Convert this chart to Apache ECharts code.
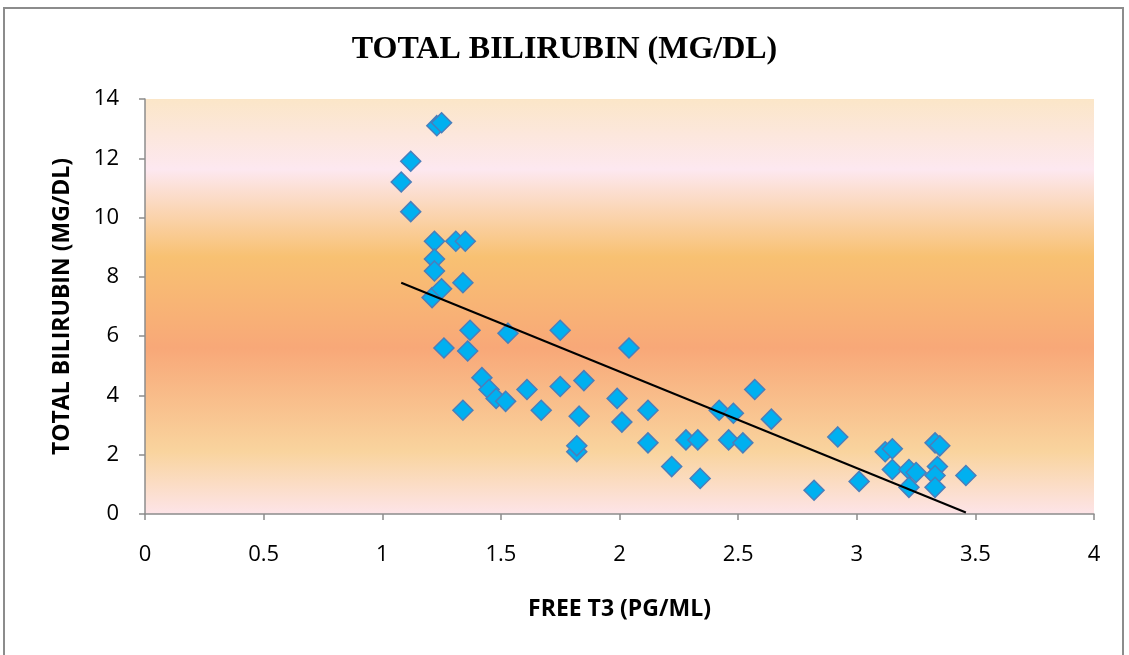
<!DOCTYPE html>
<html>
<head>
    <meta charset="UTF-8" />
    <title>TOTAL BILIRUBIN (MG/DL)</title>
    <script src="https://cdn.jsdelivr.net/npm/echarts@6/dist/echarts.min.js"></script>
    <style>
        body { margin: 0; background: #fff; }
        #frame { position: absolute; left: 3px; top: 7px; width: 1121px; height: 660px; border: 2px solid #8c8c8c; box-sizing: border-box; }
        #chart { position: absolute; left: 0; top: 0; width: 1129px; height: 655px; }
    </style>
</head>
<body>
    <div id="frame"></div>
    <div id="chart"></div>
    <script type="text/javascript">
        // free T3 (pg/ml) vs total bilirubin (mg/dl)
        var freeT3 = [1.08, 1.12, 1.12, 1.23, 1.25, 1.22, 1.22, 1.22, 1.31, 1.35,
            1.34, 1.21, 1.25, 1.26, 1.37, 1.36, 1.34, 1.42, 1.45, 1.48,
            1.52, 1.53, 1.61, 1.67, 1.75, 1.75, 1.82, 1.82, 1.83, 1.85,
            1.99, 2.01, 2.04, 2.12, 2.12, 2.22, 2.28, 2.33, 2.34, 2.42,
            2.48, 2.46, 2.52, 2.57, 2.64, 2.82, 2.92, 3.01, 3.12, 3.15,
            3.15, 3.22, 3.22, 3.25, 3.33, 3.35, 3.34, 3.33, 3.33, 3.46];
        var bilirubin = [11.2, 11.9, 10.2, 13.1, 13.2, 9.2, 8.6, 8.2, 9.2, 9.2,
            7.8, 7.3, 7.6, 5.6, 6.2, 5.5, 3.5, 4.6, 4.2, 3.9,
            3.8, 6.1, 4.2, 3.5, 6.2, 4.3, 2.1, 2.3, 3.3, 4.5,
            3.9, 3.1, 5.6, 3.5, 2.4, 1.6, 2.5, 2.5, 1.2, 3.5,
            3.4, 2.5, 2.4, 4.2, 3.2, 0.8, 2.6, 1.1, 2.1, 2.2,
            1.5, 1.5, 0.9, 1.4, 2.4, 2.3, 1.6, 1.3, 0.9, 1.3];
        // linear trendline end points
        var trendX = [1.08, 3.46];
        var trendY = [7.8, 0.05];

        var chart = echarts.init(document.getElementById('chart'));

        var points = freeT3.map((x, i) => [x, bilirubin[i]]);
        var trend = trendX.map((x, i) => [x, trendY[i]]);

        var labelFont = 'Open Sans, Noto Sans, sans-serif';

        var option = {
            animation: false,
            title: {
                text: 'TOTAL BILIRUBIN (MG/DL)',
                left: 'center',
                top: 29,
                textStyle: {
                    fontFamily: 'Liberation Serif, Times New Roman, serif',
                    fontWeight: 'bold',
                    fontSize: 32,
                    color: '#000'
                }
            },
            grid: {
                left: 145,
                right: 35,
                top: 99,
                bottom: 141,
                show: true,
                borderWidth: 0,
                backgroundColor: {
                    type: 'linear', x: 0, y: 0, x2: 0, y2: 1,
                    colorStops: [
                        { offset: 0, color: '#fbe6c8' },
                        { offset: 0.17, color: '#fde8f0' },
                        { offset: 0.38, color: '#f8c172' },
                        { offset: 0.6, color: '#f8a878' },
                        { offset: 0.85, color: '#f9d49e' },
                        { offset: 1, color: '#fde4e8' }
                    ]
                }
            },
            xAxis: {
                type: 'value',
                min: 0,
                max: 4,
                interval: 0.5,
                name: 'FREE T3 (PG/ML)',
                nameLocation: 'middle',
                nameGap: 84,
                nameTextStyle: { fontFamily: labelFont, fontWeight: 'bold', fontSize: 23, color: '#000' },
                axisLine: { show: true, lineStyle: { color: '#8c8c8c', width: 1.5 } },
                axisTick: { show: true, length: 6, lineStyle: { color: '#8c8c8c', width: 1.5 } },
                axisLabel: { margin: 30, fontFamily: labelFont, fontSize: 22, color: '#000' },
                splitLine: { show: false }
            },
            yAxis: {
                type: 'value',
                min: 0,
                max: 14,
                interval: 2,
                name: 'TOTAL BILIRUBIN (MG/DL)',
                nameLocation: 'middle',
                nameGap: 71,
                nameTextStyle: { fontFamily: labelFont, fontWeight: 'bold', fontSize: 23, color: '#000' },
                axisLine: { show: true, lineStyle: { color: '#8c8c8c', width: 1.5 } },
                axisTick: { show: true, length: 6, lineStyle: { color: '#8c8c8c', width: 1.5 } },
                axisLabel: { margin: 26, fontFamily: labelFont, fontSize: 22, color: '#000' },
                splitLine: { show: false }
            },
            series: [
                {
                    name: 'trend',
                    type: 'line',
                    data: trend,
                    symbol: 'none',
                    lineStyle: { color: '#000', width: 2 },
                    z: 3
                },
                {
                    name: 'TOTAL BILIRUBIN (MG/DL)',
                    type: 'scatter',
                    data: points,
                    symbol: 'diamond',
                    symbolSize: 20,
                    itemStyle: { color: '#00b0f0', borderColor: '#4a7ebb', borderWidth: 1.5, opacity: 1 },
                    z: 2
                }
            ]
        };
        chart.setOption(option);
    </script>
</body>
</html>
